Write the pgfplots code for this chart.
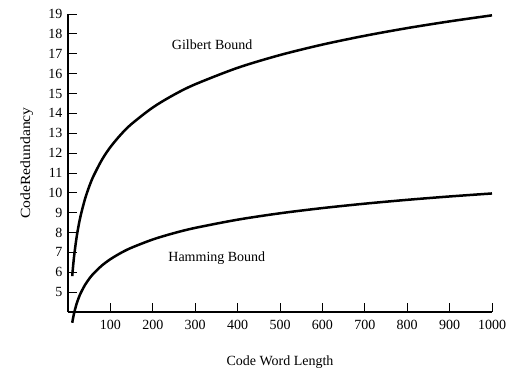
\documentclass[border=0pt]{standalone}
\usepackage{pgfplots}
\pgfplotsset{compat=1.18}
\usepackage{fontspec}
\setmainfont{Liberation Serif}
\begin{document}
\begin{tikzpicture}
\path[use as bounding box] (-68pt,-61pt) rectangle (438pt,312pt);
\begin{axis}[
  at={(0,0)}, anchor=south west,
  scale only axis,
  width=424pt, height=298pt,
  xmin=0, xmax=1000, ymin=4, ymax=19,
  axis lines*=left,
  axis line style={line width=1.2pt},
  tick align=inside,
  major tick length=9pt,
  tick style={line width=0.8pt, black},
  xtick={100,200,...,1000},
  ytick={5,6,...,19},
  clip=false,
  font=\fontsize{14}{16}\selectfont,
  /pgf/number format/assume math mode=true,
  /pgf/number format/1000 sep={},
  yticklabel style={xshift=-2pt},
  xticklabel style={yshift=-5pt},
  xlabel={Code Word Length},
  ylabel={\scalebox{1.12}[1]{CodeRedundancy}},
  xlabel style={at={(axis description cs:0.5,-0.168)}, anchor=center},
  ylabel style={at={(axis description cs:-0.097,0.5)}, anchor=center},
]
\addplot[black, line width=2.5pt, smooth] coordinates {
(10,5.807) (12,6.304) (15,6.919) (20,7.721) (25,8.349) (30,8.864) (40,9.681)
(50,10.317) (60,10.838) (80,11.662) (100,12.302) (125,12.941) (150,13.467)
(200,14.295) (250,14.937) (300,15.462) (400,16.291) (500,16.934) (600,17.460)
(700,17.904) (800,18.290) (900,18.629) (1000,18.933)};
\addplot[black, line width=2.5pt, smooth] coordinates {
(10,3.459) (12,3.700) (15,4.0) (20,4.392) (25,4.700) (30,4.954) (40,5.358)
(50,5.672) (60,5.931) (80,6.340) (100,6.658) (125,6.977) (150,7.238)
(200,7.651) (250,7.971) (300,8.234) (400,8.647) (500,8.969) (600,9.231)
(700,9.453) (800,9.646) (900,9.816) (1000,9.967)};
\node at (axis cs:340,17.47) {Gilbert Bound};
\node at (axis cs:351,6.72) {Hamming Bound};
\end{axis}
\end{tikzpicture}
\end{document}
